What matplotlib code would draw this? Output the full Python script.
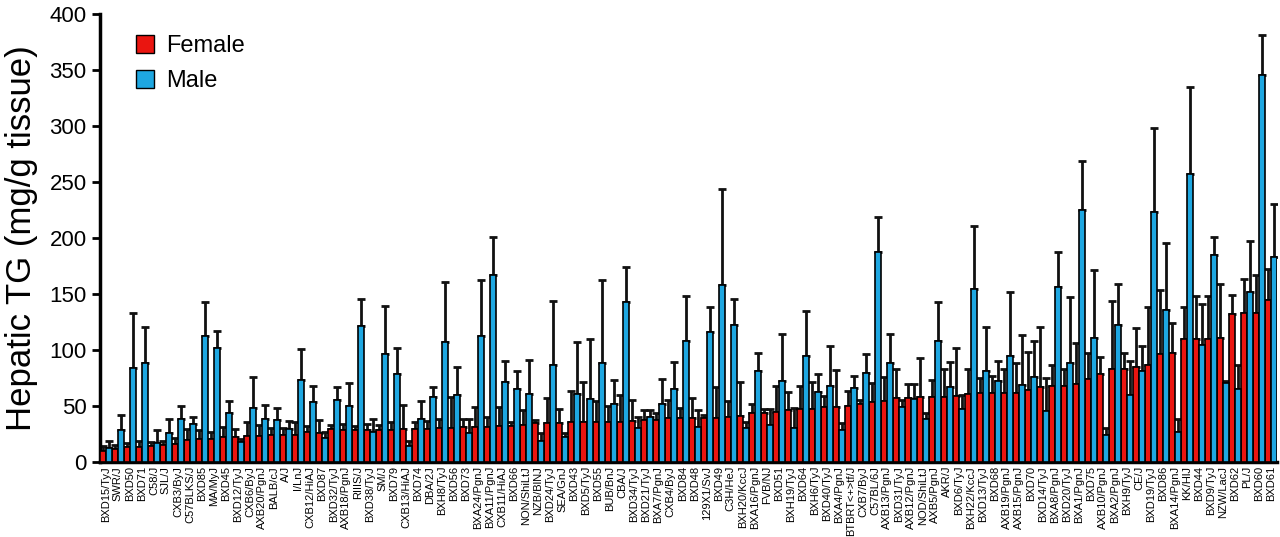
import numpy as np
import matplotlib
matplotlib.use("Agg")
from matplotlib import pyplot as plt
from matplotlib.patches import Patch

plt.rcParams['font.family'] = ['Liberation Sans', 'DejaVu Sans']

# strains, in plotted order
strains = ['BXD15/TyJ', 'SWR/J', 'BXD50', 'BXD71', 'C58/J', 'SJL/J', 'CXB3/ByJ', 'C57BLKS/J', 'BXD85', 'MA/MyJ',
           'BXD45', 'BXD12/TyJ', 'CXB6/ByJ', 'AXB20/PgnJ', 'BALB/cJ', 'A/J', 'I/LnJ', 'CXB12/HiAJ', 'BXD87', 'BXD32/TyJ',
           'AXB18/PgnJ', 'RIIIS/J', 'BXD38/TyJ', 'SM/J', 'BXD79', 'CXB13/HiAJ', 'BXD74', 'DBA/2J', 'BXH8/TyJ', 'BXD56',
           'BXD73', 'BXA24/PgnJ', 'BXA11/PgnJ', 'CXB11/HiAJ', 'BXD66', 'NON/ShiLtJ', 'NZB/BlNJ', 'BXD24/TyJ', 'SEA/GnJ', 'BXD43',
           'BXD5/TyJ', 'BXD55', 'BUB/BnJ', 'CBA/J', 'BXD34/TyJ', 'BXD21/TyJ', 'BXA7/PgnJ', 'CXB4/ByJ', 'BXD84', 'BXD48',
           '129X1/SvJ', 'BXD49', 'C3H/HeJ', 'BXH20/KccJ', 'BXA16/PgnJ', 'FVB/NJ', 'BXD51', 'BXH19/TyJ', 'BXD64', 'BXH6/TyJ',
           'BXD40/TyJ', 'BXA4/PgnJ', 'BTBRT<+>tf/J', 'CXB7/ByJ', 'C57BL/6J', 'AXB13/PgnJ', 'BXD31/TyJ', 'AXB12/PgnJ', 'NOD/ShiLtJ', 'AXB5/PgnJ',
           'AKR/J', 'BXD6/TyJ', 'BXH22/KccJ', 'BXD13/TyJ', 'BXD68', 'AXB19/PgnJ', 'AXB15/PgnJ', 'BXD70', 'BXD14/TyJ', 'BXA8/PgnJ',
           'BXD20/TyJ', 'BXA1/PgnJ', 'BXD75', 'AXB10/PgnJ', 'BXA2/PgnJ', 'BXH9/TyJ', 'CE/J', 'BXD19/TyJ', 'BXD86', 'BXA14/PgnJ',
           'KK/HlJ', 'BXD44', 'BXD9/TyJ', 'NZW/LacJ', 'BXD62', 'PL/J', 'BXD60', 'BXD61']

# mean hepatic TG (mg/g)
female = [10, 11.6, 13, 13, 14, 15, 16, 19.6, 20.5, 20,
          22, 22, 23, 23, 24, 24, 24, 27, 26, 29,
          28, 28.6, 28, 28, 28, 29, 29.5, 29, 30, 30,
          31, 31, 31.5, 32, 32, 33, 34.5, 34.5, 34.5, 36,
          36, 36, 36, 36, 36.6, 37, 37.5, 39, 39, 39,
          39, 39, 40, 41, 43.5, 43.5, 44.3, 46, 47, 47.6,
          48.8, 49.4, 50, 51.5, 53, 54.5, 57.4, 57.4, 57.7, 57.7,
          58.3, 59.2, 60.4, 61.3, 61.9, 61.9, 61.9, 64.3, 66.4, 67.3,
          67.3, 69.4, 74, 78.6, 82.7, 82.7, 84.5, 86.6, 96, 97,
          109.5, 109.5, 109.5, 110.4, 132, 133.3, 133.3, 144.6]
male = [12.5, 28.5, 84, 88, 17, 25.6, 38.4, 33.6, 112.5, 101.5,
        44, 17.6, 48.5, 38.4, 37, 29.5, 73, 53, 21, 55,
        50, 121, 27, 96.4, 78, 14, 38.4, 58, 107, 60,
        25.6, 112, 167, 71, 65, 61, 18.7, 86.6, 22.6, 61,
        56, 88, 52, 142.6, 30.6, 39.6, 52, 65, 108, 31.5,
        115.8, 158, 122, 30.6, 81, 33, 72, 30, 94.6, 62,
        68, 28, 65.8, 79, 187, 88.7, 49.4, 56, 38, 108,
        66.7, 47.3, 154.5, 81.5, 72.6, 94.6, 68.75, 76, 45.5, 156,
        88, 225, 110.4, 24, 122, 60, 81.5, 223.5, 136, 27,
        257, 104.5, 184.5, 70.8, 65, 152, 345.5, 182.7]

# top of the error bar (mean + error)
female_top = [14, 15, 17, 19, 18, 19, 21.5, 29, 28.6, 27,
              31, 29, 36, 33, 30, 30, 36, 32, 37.5, 33,
              34, 32, 34, 33, 36, 51, 36, 36.6, 38, 58,
              38, 49, 40, 49, 36, 46, 37, 57, 47, 63,
              71.7, 54.5, 50, 60, 55, 46, 44, 55, 48.5, 57,
              41.6, 66.7, 54, 71.7, 51.8, 47, 68, 62, 68, 71.7,
              59, 82, 63, 55, 70.8, 75.6, 82.7, 69.6, 93, 73,
              82.7, 101.5, 83, 75, 76.5, 83, 88.7, 98.5, 120.8, 86.6,
              83, 106, 97, 94, 144, 97, 119.3, 138.7, 153.6, 123.8,
              138.7, 148, 148, 158.6, 149, 163, 167, 172]
male_top = [19, 42, 133, 120, 28, 38, 50, 39.6, 143, 117,
            54, 20, 76, 51, 48.5, 36.6, 100.6, 68, 26.6, 67,
            70, 145, 38, 139.6, 101.5, 19, 54, 67, 161, 84.5,
            38, 162, 201, 90, 81.5, 90.5, 26, 144, 26, 107,
            110, 162.5, 73, 174, 40, 46, 74, 89, 148.5, 46,
            138, 243.5, 145, 36, 97, 47, 114, 48.5, 135, 78,
            103.6, 35, 76.8, 96.4, 218.5, 114, 55, 69.6, 43.5, 143,
            89, 60, 210.7, 120.8, 90, 151.5, 113, 108, 74.7, 187,
            147, 269, 171.4, 30, 158.6, 90, 103.6, 298, 195.8, 38,
            335, 140.8, 201, 72, 86.6, 197, 381, 230]

red = '#ea1510'
blue = '#1ea7e1'

x = np.arange(len(strains))
w = 0.5
female = np.array(female)
male = np.array(male)
f_err = np.array(female_top) - female
m_err = np.array(male_top) - male

fig, ax = plt.subplots(figsize=(12.8, 5.37), dpi=100)
fig.subplots_adjust(left=0.078, right=0.998, top=0.974, bottom=0.14)

ax.errorbar(x - w / 2, female, yerr=[np.zeros_like(f_err), f_err], fmt='none',
            ecolor='#111111', elinewidth=2, capsize=3, capthick=2, zorder=2)
ax.errorbar(x + w / 2, male, yerr=[np.zeros_like(m_err), m_err], fmt='none',
            ecolor='#111111', elinewidth=2, capsize=3, capthick=2, zorder=2)
ax.bar(x - w / 2, female, w, color=red, edgecolor='black', linewidth=1.2, zorder=3)
ax.bar(x + w / 2, male, w, color=blue, edgecolor='black', linewidth=1.2, zorder=3)

ax.set_xlim(-0.5, len(strains) - 0.5)
ax.set_ylim(0, 400)
ax.set_yticks(range(0, 401, 50))
ax.set_xticks(x)
ax.set_xticklabels(strains, rotation=90, fontsize=8)
ax.tick_params(axis='x', length=0, pad=3)
ax.tick_params(axis='y', labelsize=16, width=2, length=6)
ax.set_ylabel('Hepatic TG (mg/g tissue)', fontsize=25, labelpad=8)

for s in ['top', 'right']:
    ax.spines[s].set_visible(False)
for s in ['left', 'bottom']:
    ax.spines[s].set_linewidth(2.5)

handles = [Patch(facecolor=red, edgecolor='black', label='Female'),
           Patch(facecolor=blue, edgecolor='black', label='Male')]
ax.legend(handles=handles, loc='upper left', bbox_to_anchor=(0.013, 1.0), frameon=False,
          fontsize=17, handlelength=0.75, handleheight=0.75, handletextpad=0.5, labelspacing=0.55)

plt.savefig('out.png', dpi=100)
